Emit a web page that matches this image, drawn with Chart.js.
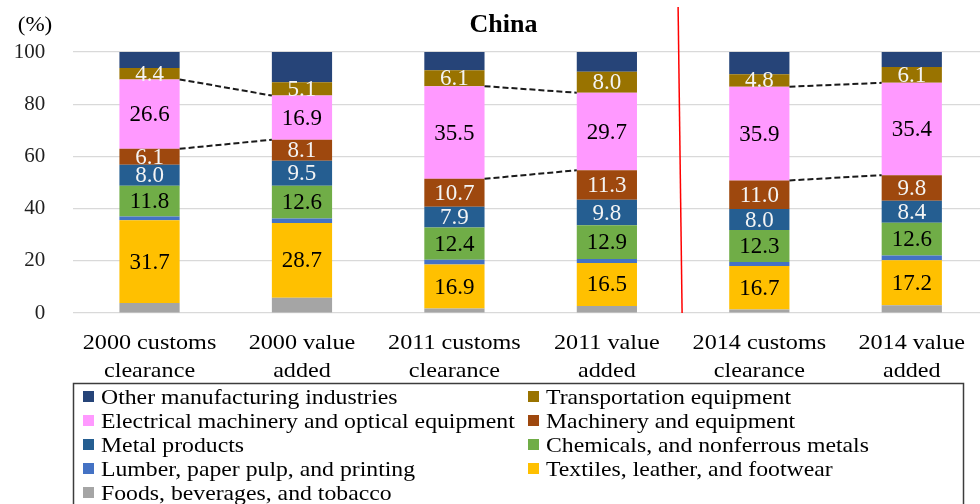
<!DOCTYPE html>
<html>
<head>
<meta charset="utf-8">
<script src="https://cdn.jsdelivr.net/npm/chart.js@4.4.1/dist/chart.umd.min.js"></script>
<style>
  html, body { margin: 0; padding: 0; background: #fff; overflow: hidden; width: 980px; height: 504px; }
  #wrap { position: relative; width: 990px; height: 504px; }
</style>
</head>
<body>
<div id="wrap"><canvas id="chart" width="990" height="504"></canvas></div>
<script>
// Export composition of China by industry (%), customs clearance vs value added basis
const categories = [
  ['2000 customs', 'clearance'], ['2000 value', 'added'],
  ['2011 customs', 'clearance'], ['2011 value', 'added'],
  ['2014 customs', 'clearance'], ['2014 value', 'added']
];

const foods      = [3.8, 5.8, 1.7, 2.7, 1.3, 3.0];
const textiles   = [31.7, 28.7, 16.9, 16.5, 16.7, 17.2];
const lumber     = [1.5, 1.7, 1.8, 1.5, 1.5, 1.8];
const chemicals  = [11.8, 12.6, 12.4, 12.9, 12.3, 12.6];
const metal      = [8.0, 9.5, 7.9, 9.8, 8.0, 8.4];
const machinery  = [6.1, 8.1, 10.7, 11.3, 11.0, 9.8];
const electrical = [26.6, 16.9, 35.5, 29.7, 35.9, 35.4];
const transport  = [4.4, 5.1, 6.1, 8.0, 4.8, 6.1];
const other      = [6.1, 11.6, 7.0, 7.6, 8.5, 5.7];

const yTicks = [0, 20, 40, 60, 80, 100];

// customs-clearance / value-added pairs joined by dashed connectors
const pairs = [[0, 1], [2, 3], [4, 5]];

const SERIF = '"Liberation Serif", "Times New Roman", serif';

// stacked bottom-to-top
const series = [
  { label: 'Foods, beverages, and tobacco',            data: foods,      color: '#A5A5A5', text: null },
  { label: 'Textiles, leather, and footwear',          data: textiles,   color: '#FFC000', text: '#000000' },
  { label: 'Lumber, paper pulp, and printing',         data: lumber,     color: '#4472C4', text: null },
  { label: 'Chemicals, and nonferrous metals',         data: chemicals,  color: '#70AD47', text: '#000000' },
  { label: 'Metal products',                           data: metal,      color: '#255E91', text: '#F4F4F4' },
  { label: 'Machinery and equipment',                  data: machinery,  color: '#9E480E', text: '#F4F4F4' },
  { label: 'Electrical machinery and optical equipment', data: electrical, color: '#FF99FF', text: '#000000' },
  { label: 'Transportation equipment',                 data: transport,  color: '#997300', text: '#F4F4F4' },
  { label: 'Other manufacturing industries',           data: other,      color: '#264478', text: null }
];
const ELECTRICAL = 6;

function stretchText(ctx, text, x, y, sx, align) {
  ctx.save();
  ctx.translate(x, y);
  ctx.scale(sx, 1);
  ctx.textAlign = align;
  ctx.fillText(text, 0, 0);
  ctx.restore();
}

const decorations = {
  id: 'decorations',
  afterDatasetsDraw(chart) {
    const ctx = chart.ctx;
    const area = chart.chartArea;
    const xs = chart.scales.x;

    // value labels inside the segments
    ctx.save();
    ctx.font = '23px ' + SERIF;
    ctx.textAlign = 'center';
    ctx.textBaseline = 'middle';
    series.forEach((s, i) => {
      if (!s.text) return;
      const meta = chart.getDatasetMeta(i);
      meta.data.forEach((el, j) => {
        ctx.fillStyle = s.text;
        ctx.fillText(s.data[j].toFixed(1), el.x, (el.y + el.base) / 2 + 1);
      });
    });
    ctx.restore();

    // dashed connectors around the electrical machinery segment
    const em = chart.getDatasetMeta(ELECTRICAL).data;
    ctx.save();
    ctx.strokeStyle = '#1a1a1a';
    ctx.lineWidth = 2;
    ctx.setLineDash([6, 3]);
    pairs.forEach(([a, b]) => {
      const A = em[a], B = em[b];
      const ax = A.x + A.width / 2, bx = B.x - B.width / 2;
      [['y', 'y'], ['base', 'base']].forEach(([k]) => {
        ctx.beginPath();
        ctx.moveTo(ax, A[k]);
        ctx.lineTo(bx, B[k]);
        ctx.stroke();
      });
    });
    ctx.restore();

    // red separator between 2011 and 2014
    const sep = (xs.getPixelForValue(3) + xs.getPixelForValue(4)) / 2;
    ctx.save();
    ctx.strokeStyle = '#FF0000';
    ctx.lineWidth = 1.5;
    ctx.beginPath();
    ctx.moveTo(sep - 5, 7);
    ctx.lineTo(sep - 1, area.bottom);
    ctx.stroke();
    ctx.restore();
  },
  afterDraw(chart) {
    const ctx = chart.ctx;
    const xs = chart.scales.x;

    ctx.save();
    ctx.fillStyle = '#000';
    ctx.textBaseline = 'alphabetic';

    // title and unit
    ctx.font = 'bold 26px ' + SERIF;
    ctx.textAlign = 'center';
    ctx.fillText('China', 503.5, 32);
    ctx.font = '22px ' + SERIF;
    stretchText(ctx, '(%)', 35, 31, 1.05, 'center');

    // category labels
    ctx.font = '21px ' + SERIF;
    categories.forEach((lines, i) => {
      const x = xs.getPixelForValue(i);
      lines.forEach((t, k) => stretchText(ctx, t, x, 349 + k * 28, 1.15, 'center'));
    });

    // legend box
    ctx.strokeStyle = '#3c3c3c';
    ctx.lineWidth = 1.5;
    ctx.strokeRect(73.5, 383.5, 890, 140);

    const items = series.slice().reverse();
    const colX = [83, 528];
    items.forEach((s, n) => {
      const col = n % 2, row = Math.floor(n / 2);
      const cy = 397 + row * 24;
      ctx.fillStyle = s.color;
      ctx.fillRect(colX[col], cy - 6, 11, 11);
      ctx.fillStyle = '#000';
      stretchText(ctx, s.label, colX[col] + 18, cy + 7, 1.13, 'left');
    });
    ctx.restore();
  }
};

new Chart(document.getElementById('chart'), {
  type: 'bar',
  data: {
    labels: categories.map(c => c.join(' ')),
    datasets: series.map(s => ({
      label: s.label,
      data: s.data,
      backgroundColor: s.color,
      borderWidth: 0,
      barPercentage: 0.395,
      categoryPercentage: 1.0
    }))
  },
  options: {
    responsive: false,
    animation: false,
    devicePixelRatio: 1,
    layout: { padding: { top: 52, bottom: 191, left: 0, right: 2 } },
    plugins: {
      legend: { display: false },
      title: { display: false },
      tooltip: { enabled: false }
    },
    scales: {
      x: {
        stacked: true,
        display: false
      },
      y: {
        stacked: true,
        min: 0,
        max: 100,
        afterBuildTicks: s => { s.ticks = yTicks.map(v => ({ value: v })); },
        afterFit: s => { s.width = 73.3; },
        grid: { color: '#D9D9D9', lineWidth: 1.2, drawTicks: false },
        border: { display: false },
        ticks: {
          padding: 28,
          color: '#1f1f1f',
          font: { family: SERIF, size: 21 }
        }
      }
    }
  },
  plugins: [decorations]
});
</script>
</body>
</html>
